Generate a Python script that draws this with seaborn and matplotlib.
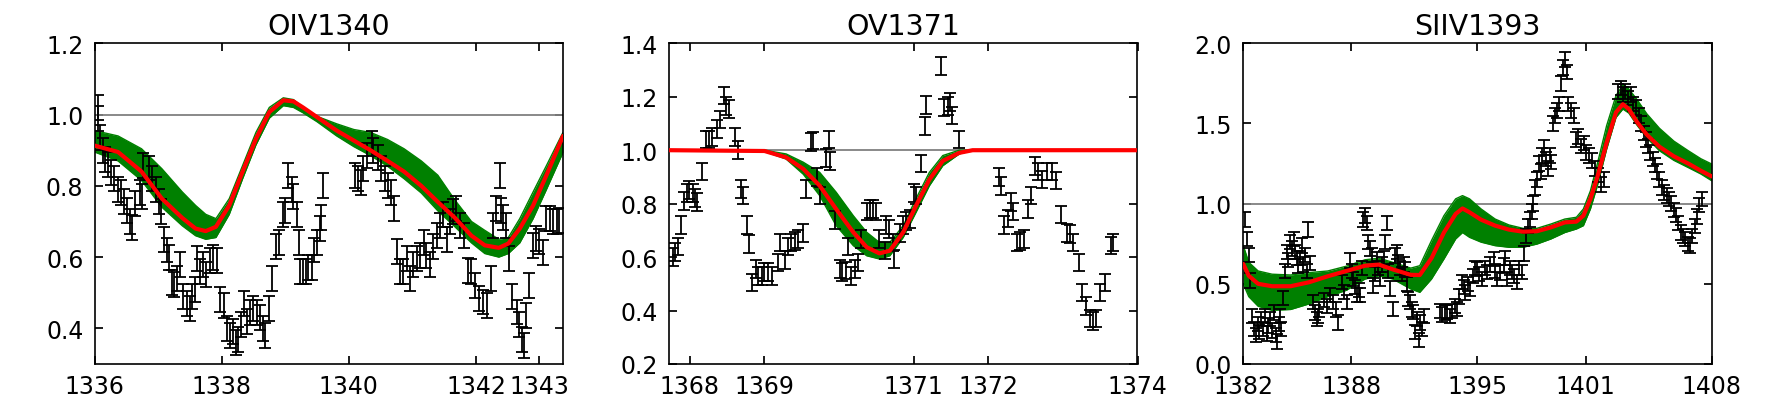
import numpy as np
import pandas as pd
import matplotlib
matplotlib.use("Agg")
import matplotlib.pyplot as plt
import seaborn as sns

# ---- OIV1340 ----
p1_x = [1336.05, 1336.06, 1336.09, 1336.14, 1336.17, 1336.22, 1336.26, 1336.30, 1336.37, 1336.41,
        1336.46, 1336.51, 1336.56, 1336.59, 1336.64, 1336.71, 1336.74, 1336.77, 1336.85, 1336.90,
        1336.96, 1337.01, 1337.05, 1337.10, 1337.14, 1337.17, 1337.22, 1337.25, 1337.30, 1337.34,
        1337.40, 1337.45, 1337.50, 1337.53, 1337.58, 1337.62, 1337.66, 1337.71, 1337.76, 1337.81,
        1337.86, 1337.92, 1337.98, 1338.03, 1338.08, 1338.13, 1338.18, 1338.23, 1338.26, 1338.31,
        1338.35, 1338.40, 1338.45, 1338.50, 1338.55, 1338.60, 1338.65, 1338.69, 1338.74, 1338.80,
        1338.86, 1338.90, 1338.97, 1338.99, 1339.05, 1339.10, 1339.12, 1339.18, 1339.21, 1339.24,
        1339.28, 1339.33, 1339.36, 1339.42, 1339.45, 1339.50, 1339.54, 1339.57, 1339.60,
        1340.10, 1340.15, 1340.20, 1340.23, 1340.28, 1340.36, 1340.38, 1340.46, 1340.51, 1340.57,
        1340.62, 1340.66, 1340.71, 1340.76, 1340.80, 1340.86, 1340.92, 1340.97, 1341.01, 1341.08,
        1341.12, 1341.18, 1341.22, 1341.27, 1341.33, 1341.39, 1341.44, 1341.48, 1341.55, 1341.60,
        1341.64, 1341.69, 1341.75, 1341.81, 1341.88, 1341.93, 1341.98, 1342.05, 1342.11, 1342.17,
        1342.23, 1342.27, 1342.32, 1342.38, 1342.40, 1342.43, 1342.47, 1342.52, 1342.57, 1342.64,
        1342.68, 1342.72, 1342.75, 1342.79, 1342.84, 1342.90, 1342.95, 1343.00, 1343.06, 1343.11,
        1343.16, 1343.21, 1343.27, 1343.31]
p1_y = [1.02, 0.99, 0.935, 0.90, 0.875, 0.86, 0.837, 0.82, 0.79, 0.78,
        0.755, 0.73, 0.70, 0.683, 0.75, 0.78, 0.77, 0.857, 0.85, 0.82,
        0.79, 0.755, 0.727, 0.65, 0.62, 0.60, 0.53, 0.524, 0.54, 0.58,
        0.49, 0.47, 0.455, 0.49, 0.51, 0.595, 0.56, 0.58, 0.55, 0.59,
        0.60, 0.59, 0.48, 0.465, 0.40, 0.38, 0.39, 0.36, 0.37, 0.41,
        0.47, 0.42, 0.445, 0.455, 0.445, 0.43, 0.40, 0.38, 0.455, 0.54,
        0.63, 0.64, 0.72, 0.73, 0.83, 0.79, 0.77, 0.72, 0.64, 0.56,
        0.56, 0.56, 0.57, 0.57, 0.62, 0.64, 0.68, 0.71, 0.80,
        0.83, 0.82, 0.81, 0.848, 0.885, 0.918, 0.90, 0.88, 0.848, 0.82,
        0.80, 0.78, 0.736, 0.615, 0.56, 0.56, 0.595, 0.54, 0.58, 0.595,
        0.605, 0.64, 0.605, 0.58, 0.63, 0.66, 0.69, 0.72, 0.65, 0.70,
        0.727, 0.736, 0.69, 0.66, 0.563, 0.56, 0.52, 0.484, 0.474, 0.465,
        0.54, 0.69, 0.736, 0.83, 0.73, 0.71, 0.69, 0.595, 0.49, 0.446,
        0.41, 0.37, 0.353, 0.437, 0.52, 0.633, 0.652, 0.643, 0.614, 0.708,
        0.708, 0.70, 0.70, 0.703]
p1_fx = [1336.0, 1336.37, 1336.74, 1337.06, 1337.38, 1337.59, 1337.75, 1337.91, 1338.12, 1338.33,
         1338.54, 1338.75, 1338.97, 1339.13, 1339.28, 1339.5, 1339.81, 1340.08, 1340.34, 1340.61,
         1340.87, 1341.14, 1341.4, 1341.67, 1341.93, 1342.14, 1342.36, 1342.51, 1342.69, 1342.9,
         1343.11, 1343.37]
p1_best = [0.913, 0.895, 0.84, 0.764, 0.71, 0.68, 0.673, 0.685, 0.745, 0.84,
           0.932, 1.007, 1.04, 1.037, 1.02, 0.993, 0.955, 0.927, 0.90, 0.87,
           0.84, 0.80, 0.755, 0.71, 0.66, 0.633, 0.626, 0.638, 0.68, 0.745,
           0.83, 0.94]
p1_hi = [0.955, 0.94, 0.904, 0.848, 0.783, 0.745, 0.72, 0.708, 0.764, 0.857,
         0.95, 1.02, 1.047, 1.042, 1.02, 0.995, 0.974, 0.958, 0.95, 0.93,
         0.904, 0.87, 0.83, 0.76, 0.70, 0.675, 0.65, 0.655, 0.708, 0.783,
         0.857, 0.95]
p1_lo = [0.895, 0.87, 0.815, 0.74, 0.688, 0.66, 0.65, 0.655, 0.72, 0.82,
         0.915, 0.99, 1.025, 1.02, 1.005, 0.98, 0.94, 0.91, 0.885, 0.855,
         0.82, 0.78, 0.73, 0.685, 0.64, 0.61, 0.60, 0.61, 0.64, 0.708,
         0.79, 0.894]

# ---- OV1371 ----
p2_x = [1367.77, 1367.80, 1367.84, 1367.88, 1367.92, 1367.96, 1367.99, 1368.04, 1368.07, 1368.10,
        1368.16, 1368.22, 1368.26, 1368.30, 1368.36, 1368.40, 1368.46, 1368.49, 1368.53, 1368.60,
        1368.65, 1368.68, 1368.71, 1368.76, 1368.79, 1368.83, 1368.88, 1368.91, 1368.96, 1369.00,
        1369.05, 1369.10, 1369.18, 1369.21, 1369.27, 1369.32, 1369.36, 1369.41, 1369.45, 1369.52,
        1369.56, 1369.63, 1369.65, 1369.70, 1369.74, 1369.82, 1369.87, 1369.88, 1369.94, 1370.01,
        1370.04, 1370.09, 1370.12, 1370.16, 1370.21, 1370.25, 1370.30, 1370.37, 1370.41, 1370.45,
        1370.49, 1370.54, 1370.61, 1370.63, 1370.67, 1370.72, 1370.74, 1370.81, 1370.86, 1370.90,
        1370.95, 1371.01, 1371.03, 1371.10, 1371.15, 1371.17, 1371.37, 1371.41, 1371.46, 1371.48,
        1371.52, 1371.61, 1372.15, 1372.17, 1372.21, 1372.26, 1372.30, 1372.33, 1372.39, 1372.43,
        1372.48, 1372.53, 1372.57, 1372.62, 1372.66, 1372.72, 1372.79, 1372.85, 1372.91, 1372.97,
        1373.05, 1373.10, 1373.14, 1373.22, 1373.26, 1373.31, 1373.36, 1373.41, 1373.45, 1373.50,
        1373.56, 1373.64, 1373.67]
p2_y = [0.60, 0.62, 0.64, 0.72, 0.81, 0.84, 0.85, 0.84, 0.82, 0.805,
        0.92, 1.04, 1.04, 1.05, 1.08, 1.115, 1.205, 1.165, 1.155, 1.05,
        1.00, 0.855, 0.83, 0.72, 0.65, 0.505, 0.555, 0.53, 0.53, 0.545,
        0.545, 0.53, 0.58, 0.655, 0.59, 0.64, 0.655, 0.66, 0.668, 0.69,
        0.855, 1.03, 1.036, 0.90, 0.83, 0.97, 1.04, 0.96, 0.74, 0.555,
        0.545, 0.55, 0.64, 0.53, 0.555, 0.58, 0.668, 0.77, 0.78, 0.78,
        0.77, 0.668, 0.625, 0.72, 0.705, 0.655, 0.593, 0.69, 0.72, 0.736,
        0.743, 0.84, 0.83, 0.95, 1.09, 1.17, 1.316, 1.16, 1.165, 1.18,
        1.13, 1.04, 0.90, 0.867, 0.72, 0.745, 0.805, 0.77, 0.655, 0.66,
        0.668, 0.78, 0.83, 0.94, 0.92, 0.89, 0.92, 0.92, 0.886, 0.76,
        0.69, 0.687, 0.655, 0.58, 0.468, 0.418, 0.37, 0.362, 0.37, 0.468,
        0.505, 0.643, 0.655]
p2_fx = [1367.72, 1369.0, 1369.29, 1369.52, 1369.74, 1369.96, 1370.19, 1370.37, 1370.54, 1370.68,
         1370.86, 1371.03, 1371.21, 1371.39, 1371.61, 1371.79, 1374.0]
p2_best = [1.0, 0.997, 0.973, 0.93, 0.867, 0.78, 0.693, 0.637, 0.614, 0.624,
           0.693, 0.792, 0.89, 0.96, 0.99, 1.0, 1.0]
p2_hi = [1.0, 1.0, 0.986, 0.955, 0.917, 0.843, 0.755, 0.693, 0.655, 0.655,
         0.718, 0.818, 0.917, 0.98, 1.0, 1.0, 1.0]
p2_lo = [1.0, 0.995, 0.967, 0.91, 0.83, 0.718, 0.643, 0.605, 0.593, 0.605,
         0.674, 0.767, 0.867, 0.942, 0.986, 1.0, 1.0]

# ---- SIIV1393 ----
p3_x = [1382.1, 1382.2, 1382.3, 1382.4, 1382.5, 1382.6, 1382.7, 1382.8, 1382.9, 1383.0,
        1383.1, 1383.2, 1383.3, 1383.4, 1383.5, 1383.6, 1383.7, 1383.8, 1383.9, 1384.0,
        1384.05, 1384.1, 1384.23, 1384.32, 1384.41, 1384.5, 1384.6, 1384.7, 1384.8, 1384.9,
        1384.98, 1385.06, 1385.15, 1385.25, 1385.34, 1385.43, 1385.52, 1385.62, 1385.71, 1385.9,
        1386.0, 1386.08, 1386.15, 1386.23, 1386.5, 1386.65, 1386.82, 1387.0, 1387.15, 1387.28,
        1387.47, 1387.6, 1387.75, 1387.93, 1388.02, 1388.12, 1388.2, 1388.3, 1388.4, 1388.5,
        1388.6, 1388.67, 1388.77, 1388.86, 1388.95, 1389.05, 1389.14, 1389.23, 1389.32, 1389.41,
        1389.5, 1389.6, 1389.7, 1389.8, 1389.88, 1389.97, 1390.06, 1390.15, 1390.3, 1390.43,
        1390.53, 1390.6, 1390.7, 1390.8, 1390.9, 1390.99, 1391.08, 1391.17, 1391.27, 1391.36,
        1391.45, 1391.55, 1391.64, 1391.73, 1391.82, 1391.92, 1392.01, 1392.9, 1393.05, 1393.2,
        1393.3, 1393.45, 1393.6, 1393.75, 1393.86, 1394.0, 1394.14, 1394.23, 1394.32, 1394.45,
        1394.6, 1394.75, 1394.85, 1394.97, 1395.1, 1395.25, 1395.4, 1395.53, 1395.7, 1395.9,
        1396.0, 1396.08, 1396.25, 1396.45, 1396.55, 1396.64, 1396.8, 1396.92, 1397.05, 1397.19,
        1397.3, 1397.47, 1397.56, 1397.7, 1397.8, 1397.9, 1398.0, 1398.1, 1398.2, 1398.3,
        1398.4, 1398.5, 1398.6, 1398.7, 1398.8, 1398.9, 1399.0, 1399.1, 1399.2, 1399.3,
        1399.4, 1399.55, 1399.65, 1399.75, 1399.85, 1399.95, 1400.05, 1400.2, 1400.35, 1400.45,
        1400.6, 1400.75, 1400.9, 1401.05, 1401.2, 1401.38, 1401.55, 1401.7, 1401.85, 1402.03,
        1402.8, 1402.95, 1403.1, 1403.2, 1403.35, 1403.5, 1403.65, 1403.8, 1403.96, 1404.1,
        1404.22, 1404.35, 1404.47, 1404.6, 1404.73, 1404.85, 1404.99, 1405.1, 1405.25, 1405.38,
        1405.5, 1405.63, 1405.75, 1405.9, 1406.02, 1406.15, 1406.28, 1406.4, 1406.54, 1406.67,
        1406.79, 1406.92, 1407.05, 1407.18, 1407.31, 1407.44]
p3_y = [0.90, 0.78, 0.68, 0.52, 0.30, 0.22, 0.18, 0.25, 0.20, 0.28,
        0.22, 0.30, 0.19, 0.24, 0.28, 0.21, 0.32, 0.18, 0.14, 0.25,
        0.30, 0.22, 0.41, 0.58, 0.70, 0.65, 0.76, 0.72, 0.78, 0.70,
        0.66, 0.61, 0.66, 0.74, 0.62, 0.68, 0.58, 0.84, 0.63, 0.385,
        0.32, 0.28, 0.30, 0.34, 0.40, 0.36, 0.43, 0.385, 0.34, 0.26,
        0.51, 0.45, 0.385, 0.645, 0.58, 0.53, 0.48, 0.43, 0.46, 0.43,
        0.60, 0.90, 0.925, 0.88, 0.76, 0.72, 0.68, 0.49, 0.56, 0.655,
        0.60, 0.53, 0.62, 0.66, 0.76, 0.88, 0.58, 0.47, 0.344, 0.676,
        0.70, 0.635, 0.60, 0.56, 0.62, 0.59, 0.50, 0.406, 0.385, 0.34,
        0.323, 0.20, 0.28, 0.15, 0.26, 0.22, 0.30, 0.33, 0.31, 0.32,
        0.323, 0.30, 0.33, 0.36, 0.344, 0.42, 0.51, 0.48, 0.447, 0.50,
        0.468, 0.55, 0.60, 0.593, 0.56, 0.53, 0.60, 0.572, 0.62, 0.655,
        0.58, 0.53, 0.57, 0.614, 0.66, 0.53, 0.60, 0.572, 0.55, 0.51,
        0.60, 0.572, 0.69, 0.80, 0.86, 0.90, 0.95, 1.00, 1.10, 1.15,
        1.25, 1.20, 1.30, 1.35, 1.28, 1.22, 1.30, 1.26, 1.50, 1.55,
        1.58, 1.62, 1.75, 1.85, 1.90, 1.82, 1.62, 1.58, 1.55, 1.40,
        1.42, 1.36, 1.38, 1.32, 1.30, 1.27, 1.22, 1.18, 1.12, 1.15,
        1.70, 1.72, 1.68, 1.70, 1.66, 1.68, 1.62, 1.60, 1.55, 1.50,
        1.44, 1.40, 1.36, 1.32, 1.28, 1.24, 1.20, 1.15, 1.10, 1.07,
        1.05, 1.03, 1.00, 0.96, 0.93, 0.88, 0.82, 0.80, 0.78, 0.75,
        0.74, 0.80, 0.86, 0.92, 0.99, 1.03]
p3_fx = [1382.0, 1382.31, 1382.83, 1383.6, 1384.63, 1385.66, 1386.69, 1387.73, 1388.76, 1389.53,
         1390.3, 1391.3, 1391.8, 1392.45, 1393.14, 1393.79, 1394.17, 1394.56, 1395.2, 1395.98,
         1396.75, 1397.53, 1398.3, 1399.08, 1399.85, 1400.49, 1400.88, 1401.27, 1401.65, 1402.17,
         1402.69, 1403.07, 1403.4, 1403.85, 1404.4, 1405.1, 1405.9, 1406.7, 1407.4, 1408.0]
p3_best = [0.624, 0.55, 0.50, 0.485, 0.485, 0.51, 0.547, 0.58, 0.613, 0.62,
           0.59, 0.556, 0.555, 0.66, 0.82, 0.936, 0.97, 0.946, 0.90, 0.863,
           0.838, 0.825, 0.828, 0.852, 0.883, 0.888, 0.925, 1.03, 1.164, 1.38,
           1.57, 1.62, 1.59, 1.51, 1.43, 1.355, 1.295, 1.25, 1.205, 1.17]
p3_hi = [0.74, 0.634, 0.58, 0.56, 0.555, 0.57, 0.58, 0.61, 0.65, 0.66,
         0.634, 0.598, 0.613, 0.77, 0.925, 1.03, 1.05, 1.03, 0.967, 0.904,
         0.867, 0.846, 0.846, 0.873, 0.904, 0.915, 0.967, 1.08, 1.247, 1.487,
         1.674, 1.74, 1.715, 1.65, 1.56, 1.47, 1.39, 1.33, 1.28, 1.247]
p3_lo = [0.50, 0.42, 0.36, 0.335, 0.34, 0.375, 0.42, 0.46, 0.53, 0.55,
         0.53, 0.468, 0.447, 0.53, 0.655, 0.78, 0.82, 0.79, 0.76, 0.738,
         0.728, 0.728, 0.748, 0.78, 0.82, 0.842, 0.863, 0.967, 1.11, 1.34,
         1.538, 1.59, 1.565, 1.49, 1.41, 1.33, 1.27, 1.225, 1.185, 1.143]

titles = ["OIV1340", "OV1371", "SIIV1393"]
xlims = [(1336, 1343.37), (1367.72, 1374.0), (1382, 1408)]
ylims = [(0.3, 1.2), (0.2, 1.4), (0.0, 2.0)]
xticks = [[1336, 1338, 1340, 1342, 1343],
          [1368, 1369, 1371, 1372, 1374],
          [1382, 1388, 1395, 1401, 1408]]
yticks = [[0.4, 0.6, 0.8, 1.0, 1.2],
          [0.2, 0.4, 0.6, 0.8, 1.0, 1.2, 1.4],
          [0.0, 0.5, 1.0, 1.5, 2.0]]
yerrs = [0.035, 0.033, 0.045]

panels = [
    (p1_x, p1_y, p1_fx, p1_best, p1_hi, p1_lo),
    (p2_x, p2_y, p2_fx, p2_best, p2_hi, p2_lo),
    (p3_x, p3_y, p3_fx, p3_best, p3_hi, p3_lo),
]

sns.set_theme(style="ticks", rc={
    "xtick.direction": "in", "ytick.direction": "in",
    "xtick.top": True, "ytick.right": True,
    "axes.edgecolor": "black", "axes.linewidth": 1.2,
    "xtick.major.size": 6, "ytick.major.size": 6,
    "xtick.color": "black", "ytick.color": "black",
    "xtick.labelcolor": "black", "ytick.labelcolor": "black",
    "text.color": "black", "axes.labelcolor": "black",
})
plt.rcParams['font.family'] = ['DejaVu Sans']

fig = plt.figure(figsize=(17.68, 4.10), dpi=100)
lefts = [94.5 / 1768, 669 / 1768, 1243.2 / 1768]
for i, (dx, dy, fx, best, hi, lo) in enumerate(panels):
    ax = fig.add_axes([lefts[i], 45 / 410, 468.5 / 1768, 320.7 / 410])
    ax.axhline(1.0, color="grey", lw=1.3, zorder=1)
    ax.fill_between(fx, lo, hi, color="green", lw=0, zorder=2)
    sns.lineplot(x=fx, y=hi, color="green", lw=1, ax=ax, zorder=2)
    sns.lineplot(x=fx, y=lo, color="green", lw=1, ax=ax, zorder=2)
    ax.errorbar(dx, dy, yerr=yerrs[i], fmt="none", ecolor="black",
                elinewidth=1.3, capsize=4.5, capthick=1.3, zorder=3)
    df = pd.DataFrame({"wave": fx, "flux": best})
    sns.lineplot(data=df, x="wave", y="flux", color="red", lw=3, ax=ax, zorder=4)
    ax.set_xlim(*xlims[i])
    ax.set_ylim(*ylims[i])
    ax.set_xticks(xticks[i])
    ax.set_xticklabels([str(t) for t in xticks[i]])
    ax.set_yticks(yticks[i])
    ax.set_yticklabels(["%.1f" % t for t in yticks[i]])
    ax.tick_params(axis="x", labelsize=17, pad=7)
    ax.tick_params(axis="y", labelsize=17, pad=8)
    ax.set_xlabel("")
    ax.set_ylabel("")
    ax.set_title(titles[i], fontsize=20.5, pad=7, color="black")

fig.savefig("out.png", dpi=100)
